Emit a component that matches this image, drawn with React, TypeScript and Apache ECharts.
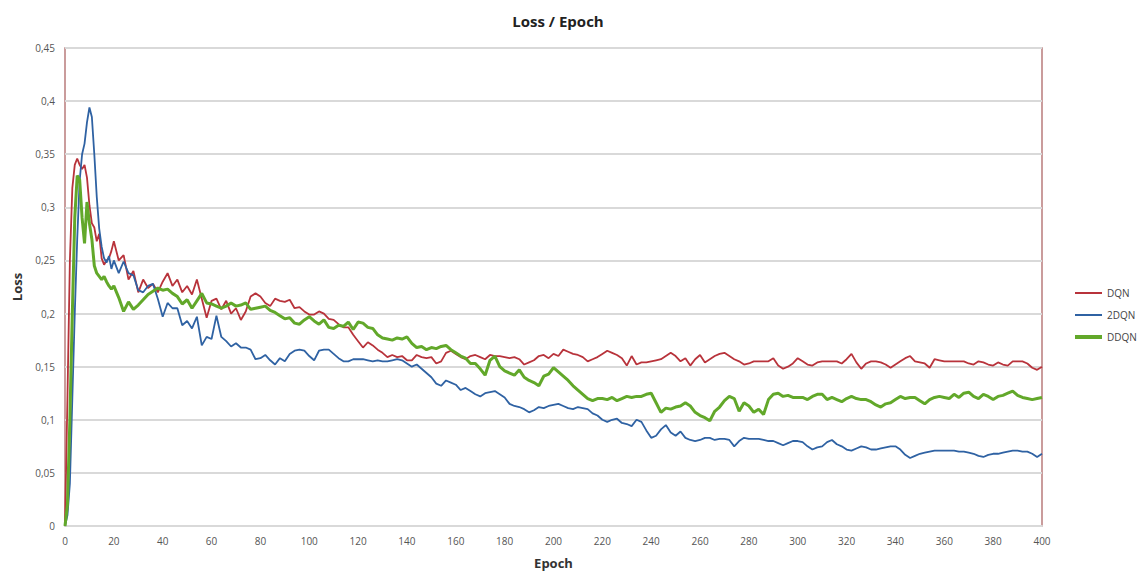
import React, { useEffect, useRef } from "react";
import * as echarts from "echarts";

const TITLE = "Loss / Epoch";
const X_NAME = "Epoch";
const Y_NAME = "Loss";
const SERIES_NAMES = ["DQN", "2DQN", "DDQN"];

// epochs: 0..20 every epoch, then 22..400 every 2 epochs
const EARLY_EPOCHS = [0, 1, 2, 3, 4, 5, 6, 7, 8, 9, 10, 11, 12, 13, 14, 15, 16, 17, 18, 19, 20];
const LATE_START = 22;
const LATE_STEP = 2;
const LATE_COUNT = 190;

const DQN = [
  0, 0.12, 0.25, 0.318, 0.34, 0.346, 0.34, 0.336, 0.34, 0.328, 0.302, 0.285, 0.281, 0.268, 0.275, 0.252, 0.246, 0.25, 0.252, 0.259, 0.268,
  0.25, 0.255, 0.232, 0.24, 0.22, 0.232, 0.224, 0.228, 0.22, 0.23,
  0.238, 0.226, 0.232, 0.22, 0.226, 0.218, 0.232, 0.214, 0.196, 0.212,
  0.214, 0.204, 0.212, 0.2, 0.205, 0.194, 0.202, 0.216, 0.219, 0.216,
  0.21, 0.207, 0.214, 0.212, 0.211, 0.213, 0.205, 0.206, 0.202, 0.199,
  0.199, 0.202, 0.2, 0.195, 0.194, 0.19, 0.187, 0.187, 0.18, 0.174,
  0.168, 0.173, 0.17, 0.166, 0.163, 0.159, 0.161, 0.159, 0.16, 0.156,
  0.156, 0.161, 0.159, 0.158, 0.159, 0.153, 0.155, 0.163, 0.165, 0.162,
  0.159, 0.157, 0.16, 0.161, 0.159, 0.157, 0.161, 0.16, 0.16, 0.159,
  0.158, 0.159, 0.157, 0.152, 0.154, 0.156, 0.16, 0.161, 0.158, 0.162,
  0.16, 0.166, 0.164, 0.162, 0.161, 0.159, 0.155, 0.157, 0.159, 0.162,
  0.165, 0.163, 0.161, 0.158, 0.151, 0.16, 0.152, 0.154, 0.154, 0.155,
  0.156, 0.157, 0.16, 0.163, 0.16, 0.155, 0.158, 0.151, 0.157, 0.161,
  0.154, 0.157, 0.16, 0.162, 0.163, 0.16, 0.157, 0.155, 0.152, 0.153,
  0.155, 0.155, 0.155, 0.155, 0.158, 0.151, 0.148, 0.15, 0.153, 0.158,
  0.155, 0.152, 0.151, 0.154, 0.155, 0.155, 0.155, 0.155, 0.153, 0.157,
  0.162, 0.154, 0.148, 0.153, 0.155, 0.155, 0.154, 0.152, 0.149, 0.152,
  0.155, 0.158, 0.16, 0.155, 0.154, 0.153, 0.149, 0.157, 0.156, 0.155,
  0.155, 0.155, 0.155, 0.155, 0.153, 0.152, 0.155, 0.154, 0.152, 0.151,
  0.154, 0.152, 0.151, 0.155, 0.155, 0.155, 0.153, 0.149, 0.147, 0.15,
];

const DQN2 = [
  0, 0.01, 0.04, 0.12, 0.2, 0.27, 0.325, 0.35, 0.36, 0.38, 0.394, 0.385, 0.35, 0.31, 0.28, 0.263, 0.252, 0.248, 0.254, 0.242, 0.25,
  0.238, 0.249, 0.238, 0.236, 0.222, 0.22, 0.226, 0.228, 0.214, 0.197,
  0.21, 0.205, 0.205, 0.189, 0.193, 0.186, 0.197, 0.17, 0.178, 0.176,
  0.198, 0.178, 0.174, 0.169, 0.172, 0.168, 0.168, 0.166, 0.157, 0.158,
  0.161, 0.156, 0.152, 0.158, 0.155, 0.162, 0.165, 0.166, 0.165, 0.16,
  0.156, 0.165, 0.166, 0.166, 0.162, 0.158, 0.155, 0.155, 0.157, 0.157,
  0.157, 0.156, 0.155, 0.156, 0.155, 0.155, 0.156, 0.157, 0.156, 0.153,
  0.15, 0.152, 0.148, 0.144, 0.14, 0.134, 0.132, 0.137, 0.135, 0.133,
  0.128, 0.13, 0.127, 0.124, 0.122, 0.125, 0.126, 0.127, 0.124, 0.121,
  0.115, 0.113, 0.112, 0.11, 0.107, 0.109, 0.112, 0.111, 0.113, 0.114,
  0.115, 0.113, 0.111, 0.11, 0.112, 0.111, 0.11, 0.106, 0.104, 0.1,
  0.098, 0.1, 0.101, 0.097, 0.096, 0.094, 0.1, 0.098, 0.09, 0.083,
  0.085, 0.091, 0.095, 0.088, 0.085, 0.089, 0.083, 0.081, 0.08, 0.081,
  0.083, 0.083, 0.081, 0.082, 0.082, 0.081, 0.075, 0.08, 0.083, 0.082,
  0.082, 0.082, 0.081, 0.08, 0.08, 0.078, 0.076, 0.078, 0.08, 0.08,
  0.079, 0.075, 0.072, 0.074, 0.075, 0.079, 0.081, 0.077, 0.075, 0.072,
  0.071, 0.073, 0.075, 0.074, 0.072, 0.072, 0.073, 0.074, 0.075, 0.075,
  0.072, 0.067, 0.064, 0.066, 0.068, 0.069, 0.07, 0.071, 0.071, 0.071,
  0.071, 0.071, 0.07, 0.07, 0.069, 0.068, 0.066, 0.065, 0.067, 0.068,
  0.068, 0.069, 0.07, 0.071, 0.071, 0.07, 0.07, 0.068, 0.065, 0.068,
];

const DDQN = [
  0, 0.02, 0.1, 0.2, 0.29, 0.33, 0.326, 0.29, 0.266, 0.305, 0.285, 0.27, 0.245, 0.238, 0.235, 0.232, 0.235, 0.23, 0.226, 0.223, 0.226,
  0.215, 0.202, 0.211, 0.204, 0.208, 0.213, 0.218, 0.221, 0.224, 0.222,
  0.223, 0.219, 0.216, 0.209, 0.213, 0.205, 0.212, 0.219, 0.21, 0.209,
  0.207, 0.205, 0.207, 0.21, 0.207, 0.208, 0.21, 0.204, 0.205, 0.206,
  0.207, 0.203, 0.201, 0.198, 0.195, 0.196, 0.191, 0.19, 0.194, 0.197,
  0.193, 0.19, 0.194, 0.187, 0.186, 0.189, 0.188, 0.192, 0.185, 0.192,
  0.191, 0.187, 0.186, 0.18, 0.177, 0.176, 0.175, 0.177, 0.176, 0.178,
  0.172, 0.168, 0.169, 0.166, 0.168, 0.167, 0.169, 0.17, 0.166, 0.163,
  0.16, 0.158, 0.153, 0.153, 0.148, 0.142, 0.156, 0.16, 0.15, 0.146,
  0.144, 0.142, 0.147, 0.14, 0.137, 0.135, 0.132, 0.141, 0.143, 0.149,
  0.145, 0.141, 0.137, 0.132, 0.128, 0.124, 0.12, 0.118, 0.12, 0.12,
  0.119, 0.121, 0.118, 0.12, 0.122, 0.121, 0.122, 0.122, 0.124, 0.125,
  0.116, 0.107, 0.111, 0.11, 0.112, 0.113, 0.116, 0.113, 0.107, 0.104,
  0.102, 0.099, 0.108, 0.112, 0.118, 0.122, 0.12, 0.108, 0.116, 0.113,
  0.107, 0.11, 0.105, 0.119, 0.124, 0.125, 0.122, 0.123, 0.121, 0.121,
  0.121, 0.119, 0.122, 0.124, 0.124, 0.119, 0.121, 0.119, 0.117, 0.12,
  0.122, 0.12, 0.119, 0.119, 0.117, 0.114, 0.112, 0.115, 0.116, 0.119,
  0.122, 0.12, 0.121, 0.121, 0.118, 0.115, 0.119, 0.121, 0.122, 0.121,
  0.12, 0.124, 0.121, 0.125, 0.126, 0.122, 0.12, 0.124, 0.122, 0.119,
  0.122, 0.123, 0.125, 0.127, 0.123, 0.121, 0.12, 0.119, 0.12, 0.121,
];

const Y_MIN = 0;
const Y_MAX = 0.45;
const Y_STEP = 0.05;
const X_MIN = 0;
const X_MAX = 400;
const X_STEP = 20;

const EPOCHS: number[] = [
  ...EARLY_EPOCHS,
  ...Array.from({ length: LATE_COUNT }, (_, i) => LATE_START + LATE_STEP * i),
];

const FONT = "'Open Sans', 'Liberation Sans', sans-serif";
const COLORS = ["#b8333b", "#2f62a3", "#62a82a"];
const WIDTHS = [1.8, 1.8, 3];

export default function App() {
  const ref = useRef<HTMLDivElement>(null);

  useEffect(() => {
    document.body.style.margin = "0";
    if (!ref.current) return;
    const chart = echarts.init(ref.current, undefined, { renderer: "svg" });
    const values = [DQN, DQN2, DDQN];
    const option: any = {
      animation: false,
      backgroundColor: "#ffffff",
      title: {
        text: TITLE,
        left: 553,
        top: 8,
        textAlign: "center",
        textStyle: { fontFamily: FONT, fontSize: 15, fontWeight: "bold", color: "#222" },
      },
      grid: {
        left: 65,
        right: 96,
        top: 48,
        bottom: 47,
        show: true,
        borderColor: "#b97c7c",
        borderWidth: 1.5,
        backgroundColor: "transparent",
      },
      legend: {
        orient: "vertical",
        left: 1070,
        top: 283,
        itemWidth: 27,
        itemHeight: 12,
        itemGap: 12,
        textStyle: { fontFamily: FONT, fontSize: 10, color: "#444" },
        data: SERIES_NAMES.map((n, i) => ({
          name: n,
          icon: i === 2 ? "path://M0 0H27V4H0Z" : "path://M0 0H27V2H0Z",
        })),
      },
      xAxis: {
        type: "value",
        min: X_MIN,
        max: X_MAX,
        interval: X_STEP,
        name: X_NAME,
        nameLocation: "middle",
        nameGap: 30,
        nameTextStyle: { fontFamily: FONT, fontSize: 13, fontWeight: "bold", color: "#333" },
        axisLine: { show: true, lineStyle: { color: "#d9d9d9", width: 2 } },
        axisTick: { show: false },
        splitLine: { show: false },
        axisLabel: { fontFamily: FONT, fontSize: 10, color: "#555", margin: 10 },
      },
      yAxis: {
        type: "value",
        min: Y_MIN,
        max: Y_MAX,
        interval: Y_STEP,
        name: Y_NAME,
        nameLocation: "middle",
        nameRotate: 90,
        nameGap: 42,
        nameTextStyle: { fontFamily: FONT, fontSize: 13, fontWeight: "bold", color: "#333" },
        axisLine: { show: false },
        axisTick: { show: false },
        splitLine: { show: true, lineStyle: { color: "#d9d9d9", width: 2 } },
        axisLabel: {
          fontFamily: FONT,
          fontSize: 10,
          color: "#555",
          margin: 10,
          formatter: (v: number) => String(parseFloat(v.toFixed(2))).replace(".", ","),
        },
      },
      series: SERIES_NAMES.map((name, si) => ({
        name,
        type: "line",
        symbol: "none",
        showSymbol: false,
        color: COLORS[si],
        lineStyle: { color: COLORS[si], width: WIDTHS[si] },
        data: EPOCHS.map((e, i) => [e, values[si][i]]),
      })),
    };
    chart.setOption(option);
    return () => chart.dispose();
  }, []);

  return <div ref={ref} style={{ width: 1138, height: 574 }} />;
}
